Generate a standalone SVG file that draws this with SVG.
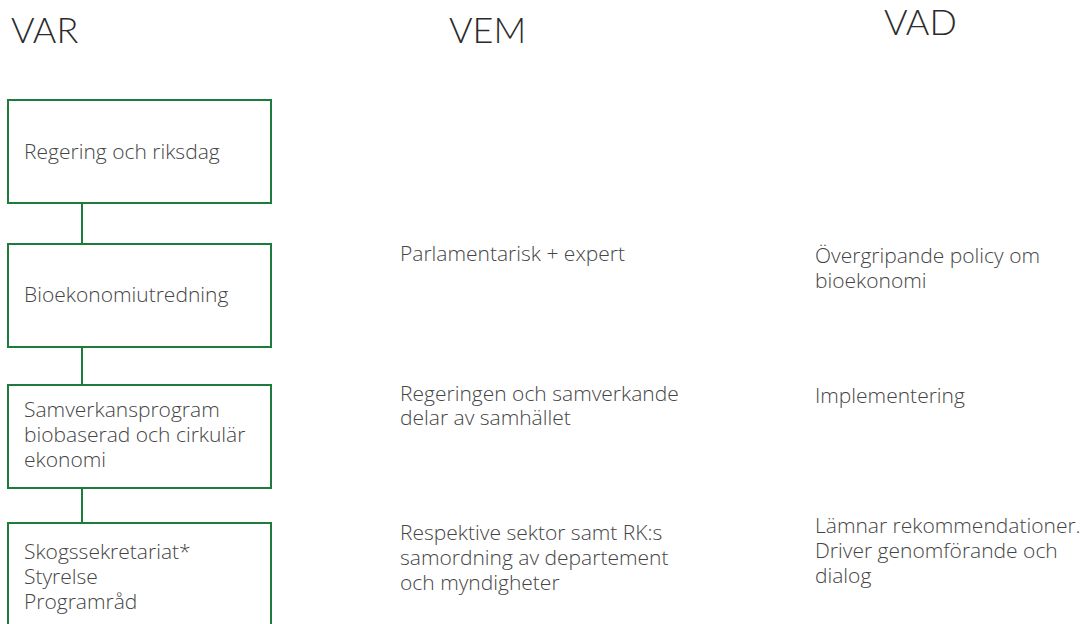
<svg xmlns="http://www.w3.org/2000/svg" width="1087" height="624" viewBox="0 0 1087 624">
<style>
.h{font-family:Lato,"Open Sans",sans-serif;font-weight:300;font-size:36px;fill:#2b2b2b}
.t{font-family:"Open Sans","Liberation Sans",sans-serif;font-weight:300;font-size:21px;fill:#454545}
.box{fill:#fff;stroke:#1e7b3c;stroke-width:2}
.con{stroke:#1e7b3c;stroke-width:2;fill:none}
</style>
<rect width="1087" height="624" fill="#fff"/>
<g id="headers">
<text class="h" x="11" y="43">VAR</text>
<text class="h" x="449" y="43">VEM</text>
<text class="h" x="884" y="35">VAD</text>
</g>
<g id="connectors">
<line class="con" x1="82" y1="203" x2="82" y2="244"/>
<line class="con" x1="82" y1="347" x2="82" y2="385"/>
<line class="con" x1="82" y1="488" x2="82" y2="523"/>
</g>
<g id="n1">
<rect class="box" x="8" y="100" width="263" height="103"/>
<text class="t" x="24" y="159">Regering och riksdag</text>
</g>
<g id="n2">
<rect class="box" x="8" y="244" width="263" height="103"/>
<text class="t" x="24" y="302">Bioekonomiutredning</text>
</g>
<g id="n3">
<rect class="box" x="8" y="385" width="263" height="103"/>
<text class="t" x="24" y="417">Samverkansprogram</text>
<text class="t" x="24" y="442">biobaserad och cirkulär</text>
<text class="t" x="24" y="467">ekonomi</text>
</g>
<g id="n4">
<rect class="box" x="8" y="523" width="263" height="110"/>
<text class="t" x="24" y="559">Skogssekretariat*</text>
<text class="t" x="24" y="584">Styrelse</text>
<text class="t" x="24" y="609">Programråd</text>
</g>
<g id="vem">
<text class="t" x="400" y="261">Parlamentarisk + expert</text>
<text class="t" x="400" y="401">Regeringen och samverkande</text>
<text class="t" x="400" y="425">delar av samhället</text>
<text class="t" x="400" y="540">Respektive sektor samt RK:s</text>
<text class="t" x="400" y="565">samordning av departement</text>
<text class="t" x="400" y="590">och myndigheter</text>
</g>
<g id="vad">
<text class="t" x="815" y="263">Övergripande policy om</text>
<text class="t" x="815" y="288">bioekonomi</text>
<text class="t" x="815" y="403">Implementering</text>
<text class="t" x="815" y="533">Lämnar rekommendationer.</text>
<text class="t" x="815" y="558">Driver genomförande och</text>
<text class="t" x="815" y="583">dialog</text>
</g>
</svg>
